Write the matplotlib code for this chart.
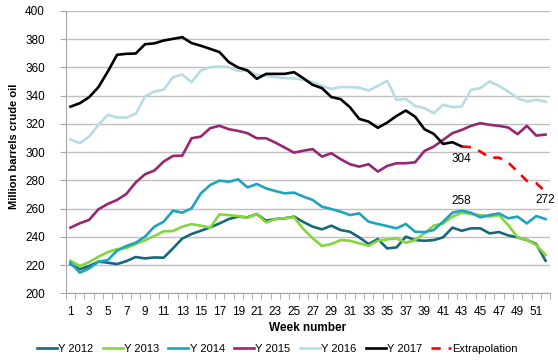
import matplotlib.pyplot as plt
import numpy as np

plt.rcParams['font.family'] = ['Liberation Sans', 'DejaVu Sans']

weeks = list(range(1, 53))

y2012 = [220.7, 217.0, 219.3, 222.4, 221.7, 220.7, 222.8, 225.7, 224.7, 225.4,
         225.2, 231.8, 238.8, 242.0, 244.3, 246.7, 249.5, 252.6, 254.3, 253.8,
         256.1, 251.4, 252.6, 253.1, 254.3, 250.5, 247.2, 245.3, 247.9, 244.8,
         243.6, 239.6, 234.9, 238.4, 231.8, 232.5, 240.1, 237.7, 237.2, 237.7,
         239.6, 246.5, 244.3, 246.0, 246.0, 242.4, 243.4, 241.0, 239.6, 237.7,
         234.9, 223.1]
y2013 = [223.0, 219.3, 222.1, 225.9, 229.2, 231.3, 232.0, 234.9, 237.5, 240.6,
         243.9, 244.1, 247.2, 249.0, 247.9, 246.5, 255.9, 255.4, 254.7, 253.5,
         256.1, 250.2, 252.6, 253.3, 253.8, 245.5, 238.9, 233.5, 234.9, 237.7,
         237.2, 235.4, 233.7, 237.2, 238.2, 238.9, 235.8, 237.7, 242.5, 247.9,
         249.5, 254.3, 257.1, 256.1, 255.4, 254.3, 255.4, 248.3, 239.6, 237.7,
         234.2, 227.1]
y2014 = [221.7, 214.6, 217.6, 222.4, 223.5, 230.2, 233.5, 235.8, 240.1, 247.2,
         250.7, 258.5, 257.1, 260.2, 270.8, 276.7, 279.8, 279.0, 280.7, 275.0,
         277.4, 274.3, 272.4, 270.8, 271.3, 268.5, 266.1, 261.3, 259.7, 257.8,
         255.4, 256.6, 250.7, 249.1, 247.6, 246.0, 249.1, 243.6, 243.3, 244.8,
         250.7, 257.1, 258.5, 257.1, 253.8, 255.4, 256.6, 253.1, 254.3, 249.5,
         254.7, 252.6]
y2015 = [246.5, 249.6, 252.0, 259.5, 263.3, 266.1, 270.4, 278.5, 284.3, 286.9,
         293.3, 297.3, 297.5, 309.8, 311.0, 317.0, 318.6, 316.2, 315.0, 313.4,
         309.8, 309.8, 306.7, 303.2, 299.6, 301.0, 302.1, 296.8, 299.2, 295.0,
         291.4, 289.7, 291.4, 286.2, 290.2, 292.1, 292.1, 292.8, 300.8, 303.9,
         308.6, 313.4, 315.7, 318.6, 320.5, 319.3, 318.6, 317.4, 312.7, 318.6,
         311.7, 312.4]
y2016 = [309.1, 306.3, 311.0, 319.3, 326.4, 324.5, 324.5, 327.1, 339.3, 342.9,
         344.1, 353.1, 354.9, 349.5, 357.8, 360.2, 360.6, 360.2, 357.5, 357.8,
         354.7, 354.0, 353.1, 352.4, 352.2, 351.2, 349.5, 346.9, 344.8, 346.0,
         346.0, 345.6, 343.6, 346.9, 350.5, 337.0, 337.7, 332.7, 331.1, 327.6,
         333.5, 331.8, 332.3, 344.1, 345.3, 350.0, 346.9, 342.9, 338.2, 335.8,
         337.0, 335.8]
y2017 = [332.2, 334.6, 338.9, 346.0, 357.0, 368.9, 369.6, 369.8, 376.4, 377.0,
         379.0, 380.2, 381.4, 377.2, 375.3, 373.1, 370.8, 363.7, 359.9, 357.8,
         351.9, 355.4, 355.4, 355.4, 356.6, 352.3, 347.6, 345.3, 339.0, 337.5,
         331.8, 323.5, 321.6, 317.2, 320.9, 325.6, 329.4, 325.1, 316.2, 312.9,
         305.8, 307.0, 304.0]
extra_weeks = list(range(43, 53))
extrapolation = [304.0, 303.5, 300.4, 296.1, 296.1, 292.6, 286.2, 279.6, 278.0, 272.0]

series = [
    ("Y 2012", y2012, "#17687A"),
    ("Y 2013", y2013, "#84D63A"),
    ("Y 2014", y2014, "#1EA3C0"),
    ("Y 2015", y2015, "#982670"),
    ("Y 2016", y2016, "#B8DCE6"),
]

fig = plt.figure(figsize=(5.58, 3.63), dpi=100)
ax = fig.add_axes([0.118, 0.192, 0.868, 0.778])

for label, vals, col in series:
    ax.plot(weeks, vals, color=col, lw=1.9, label=label)
ax.plot(weeks[:len(y2017)], y2017, color="black", lw=1.9, label="Y 2017")
ax.plot(extra_weeks, extrapolation, color="#FF0000", lw=1.9, ls=(0, (3.5, 3)),
        label="Extrapolation")

# value labels
ax.text(43, 304 - 4.5, "304", ha="center", va="top", fontsize=8.5)
ax.text(43, 258 + 3, "258", ha="center", va="bottom", fontsize=8.5)
ax.text(52, 272 - 1.5, "272", ha="center", va="top", fontsize=8.5)

ax.set_xlim(0.5, 52.5)
ax.set_ylim(200, 400)
ax.set_yticks(np.arange(200, 401, 20))
ax.yaxis.grid(True, color="#BFBFBF", lw=1)
ax.set_axisbelow(True)

ax.set_xticks(range(1, 53, 2))
ax.set_xticks(np.arange(0.5, 53, 1), minor=True)
ax.tick_params(axis="x", which="major", length=0, pad=9, labelsize=8.5)
ax.tick_params(axis="x", which="minor", length=4, color="#A6A6A6")
ax.tick_params(axis="y", length=4, color="#A6A6A6", labelsize=8.5, pad=11)

for s in ["top", "right"]:
    ax.spines[s].set_visible(False)
for s in ["left", "bottom"]:
    ax.spines[s].set_color("#A6A6A6")

ax.set_xlabel("Week number", fontsize=8.5, fontweight="bold", labelpad=3)
ax.set_ylabel("Million barrels crude oil", fontsize=8, fontweight="bold")
ax.yaxis.set_label_coords(-0.097, 0.52)

fig.legend(loc="center", bbox_to_anchor=(0.497, 0.038), ncol=7, frameon=False,
           fontsize=8, handlelength=1.8, handletextpad=0.1, columnspacing=0.85)

fig.savefig("out.png", dpi=100)
